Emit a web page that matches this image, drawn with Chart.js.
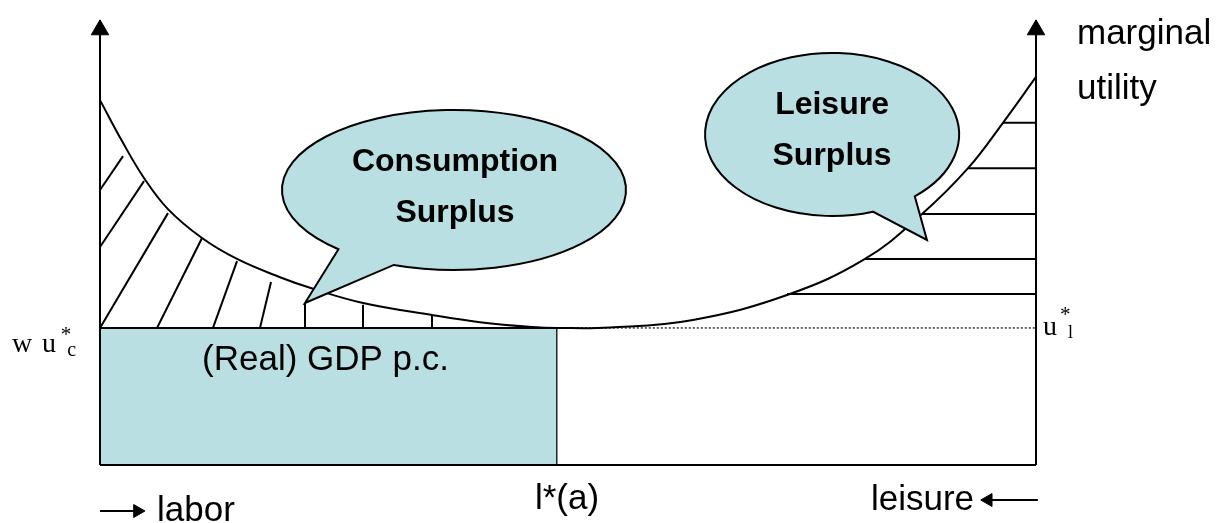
<!DOCTYPE html>
<html>
<head>
<meta charset="utf-8">
<title>Consumption and leisure surplus</title>
<script src="https://cdn.jsdelivr.net/npm/chart.js@4"></script>
<style>
  body { margin: 0; background: #fff; }
  #wrap { width: 1225px; height: 523px; }
</style>
</head>
<body>
<div id="wrap"><canvas id="surplusChart" width="1225" height="523"></canvas></div>
<script>
// x: share of the time endowment (labor counted from the left, leisure from the right)
// y: marginal utility
const curveX = [0, 2.35, 4.7, 7.26, 10.9, 14.64, 19.23, 22.76, 28.1, 35.47, 40.6, 46.26, 48.8, 54.49, 63.35, 73.4, 81.73, 87.82, 92.74, 96.47, 100];
const curveY = [82.0, 72.8, 64.5, 57.5, 51.0, 46.3, 42.2, 39.6, 36.4, 33.7, 32.1, 31.0, 30.8, 30.9, 32.6, 38.2, 46.3, 56.4, 66.7, 76.9, 87.2];

const lStar = 48.8;   // l*(a)
const uStar = 30.8;   // w u*_c = u*_l

// hatching under the consumption side: [x0, y0, x1, y1]
const consumptionHatch = [
  [0, 61.8, 2.46, 69.4],
  [0, 49.0, 4.7, 63.8],
  [0, 30.8, 7.26, 56.6],
  [6.09, 30.8, 10.9, 51.0],
  [12.07, 30.8, 14.64, 45.8],
  [17.09, 30.8, 18.27, 41.1],
  [21.9, 30.8, 21.9, 36.4],
  [28.1, 30.8, 28.1, 36.0],
  [35.47, 30.8, 35.47, 33.5]
];

// horizontal hatching on the leisure side, each runs to the right axis
const leisureHatchY = [76.9, 66.7, 56.4, 46.3, 38.4];
const leisureHatchX = [96.47, 92.74, 87.82, 81.73, 73.4];

const fillBlue = '#b9dfe2';
const sans = '"Liberation Sans", Arial, sans-serif';
const serif = '"Liberation Serif", "Times New Roman", serif';

const bubbles = [
  { cx: 37.82, cy: 61.8, rx: 18.38, ry: 17.98, tailA: [25.32, 48.31], tip: [21.9, 36.4], tailB: [31.3, 44.72] },
  { cx: 78.21, cy: 74.27, rx: 13.57, ry: 18.31, tailA: [82.59, 56.85], tip: [88.35, 50.56], tailB: [86.86, 60.67] }
];

const labels = [
  { text: 'Consumption', x: 37.93, y: 66.07, font: 'bold 32px ' + sans, align: 'center' },
  { text: 'Surplus', x: 37.93, y: 54.61, font: 'bold 32px ' + sans, align: 'center' },
  { text: 'Leisure', x: 78.21, y: 78.88, font: 'bold 32px ' + sans, align: 'center' },
  { text: 'Surplus', x: 78.21, y: 67.42, font: 'bold 32px ' + sans, align: 'center' },
  { text: '(Real) GDP p.c.', x: 10.9, y: 21.35, font: '35px ' + sans },
  { text: 'marginal', x: 104.38, y: 94.61, font: '35px ' + sans },
  { text: 'utility', x: 104.38, y: 82.25, font: '35px ' + sans },
  { text: 'l*(a)', x: 46.47, y: -9.89, font: '35px ' + sans },
  { text: 'leisure', x: 82.37, y: -10.11, font: '35px ' + sans },
  { text: 'labor', x: 6.09, y: -12.58, font: '35px ' + sans },
  { text: 'w', x: -9.4, y: 25.39, font: '28px ' + serif },
  { text: 'u', x: -6.2, y: 25.39, font: '28px ' + serif },
  { text: '*', x: -4.2, y: 27.87, font: '21px ' + serif },
  { text: 'c', x: -3.5, y: 24.49, font: '20px ' + serif },
  { text: 'u', x: 100.75, y: 29.21, font: '28px ' + serif },
  { text: '*', x: 102.56, y: 32.36, font: '21px ' + serif },
  { text: 'l', x: 103.42, y: 28.54, font: '18px ' + serif }
];

const segment = (x0, y0, x1, y1, extra) => Object.assign({
  data: [{ x: x0, y: y0 }, { x: x1, y: y1 }],
  showLine: true,
  borderColor: '#000',
  borderWidth: 2,
  pointRadius: 0,
  fill: false,
  clip: false,
  order: 2
}, extra || {});

const arrowHead = (size, rot) => ({
  pointRadius: [0, size],
  pointStyle: 'triangle',
  pointRotation: rot,
  pointBackgroundColor: '#000',
  pointBorderColor: '#000',
  pointBorderWidth: 1
});

const datasets = [];

// the marginal utility curve
datasets.push({
  data: curveX.map((x, i) => ({ x: x, y: curveY[i] })),
  showLine: true,
  borderColor: '#000',
  borderWidth: 2,
  pointRadius: 0,
  tension: 0.4,
  clip: false,
  order: 1
});

consumptionHatch.forEach(h => datasets.push(segment(h[0], h[1], h[2], h[3])));
leisureHatchY.forEach((y, i) => datasets.push(segment(leisureHatchX[i], y, 100, y)));

// axes with arrow heads
const axisTop = 97.8;
datasets.push(segment(0, 0, 0, axisTop, Object.assign(arrowHead(10, 0), { order: 0 })));
datasets.push(segment(100, 0, 100, axisTop, Object.assign(arrowHead(10, 0), { order: 0 })));
datasets.push(segment(0, 0, 100, 0, { order: 0 }));

// direction arrows under the axis
datasets.push(segment(0, -10.34, 4.0, -10.34, arrowHead(7.5, 90)));
datasets.push(segment(100.2, -7.87, 94.9, -7.87, arrowHead(7.5, -90)));

// dotted u* line
datasets.push(segment(lStar, uStar, 100, uStar, { borderWidth: 1.5, borderColor: '#333', borderDash: [2, 2], order: 3 }));

// GDP p.c. rectangle
datasets.push(segment(lStar, 0, lStar, uStar, { borderWidth: 1.5, borderColor: '#222', order: 3 }));
datasets.push({
  data: [{ x: 0, y: uStar }, { x: lStar, y: uStar }],
  showLine: true,
  borderColor: '#000',
  borderWidth: 2,
  pointRadius: 0,
  backgroundColor: fillBlue,
  fill: 'origin',
  clip: false,
  order: 5
});

const bubblePlugin = {
  id: 'bubbles',
  afterDatasetsDraw(chart) {
    const ctx = chart.ctx;
    const xs = chart.scales.x;
    const ys = chart.scales.y;
    const pt = p => [xs.getPixelForValue(p[0]), ys.getPixelForValue(p[1])];

    bubbles.forEach(b => {
      const [cx, cy] = pt([b.cx, b.cy]);
      const rx = Math.abs(xs.getPixelForValue(b.cx + b.rx) - cx);
      const ry = Math.abs(ys.getPixelForValue(b.cy + b.ry) - cy);
      const [ax, ay] = pt(b.tailA);
      const [bx, by] = pt(b.tailB);
      const [tx, ty] = pt(b.tip);
      const angA = Math.atan2((ay - cy) / ry, (ax - cx) / rx);
      const angB = Math.atan2((by - cy) / ry, (bx - cx) / rx);

      ctx.save();
      ctx.beginPath();
      ctx.ellipse(cx, cy, rx, ry, 0, angA, angB, false);
      ctx.lineTo(tx, ty);
      ctx.closePath();
      ctx.fillStyle = fillBlue;
      ctx.fill();
      ctx.lineWidth = 2;
      ctx.strokeStyle = '#000';
      ctx.stroke();
      ctx.restore();
    });

    ctx.save();
    ctx.fillStyle = '#000';
    ctx.textBaseline = 'alphabetic';
    labels.forEach(l => {
      ctx.font = l.font;
      ctx.textAlign = l.align || 'left';
      ctx.fillText(l.text, xs.getPixelForValue(l.x), ys.getPixelForValue(l.y));
    });
    ctx.restore();
  }
};

// the scales span the whole canvas so labels and arrows below the axis stay inside the chart area
new Chart(document.getElementById('surplusChart'), {
  type: 'scatter',
  data: { datasets: datasets },
  options: {
    responsive: false,
    animation: false,
    events: [],
    layout: { padding: 0, autoPadding: false },
    scales: {
      x: { type: 'linear', min: -10.684, max: 120.192, display: false },
      y: { type: 'linear', min: -13.034, max: 104.494, display: false }
    },
    plugins: {
      legend: { display: false },
      tooltip: { enabled: false }
    }
  },
  plugins: [bubblePlugin]
});
</script>
</body>
</html>
